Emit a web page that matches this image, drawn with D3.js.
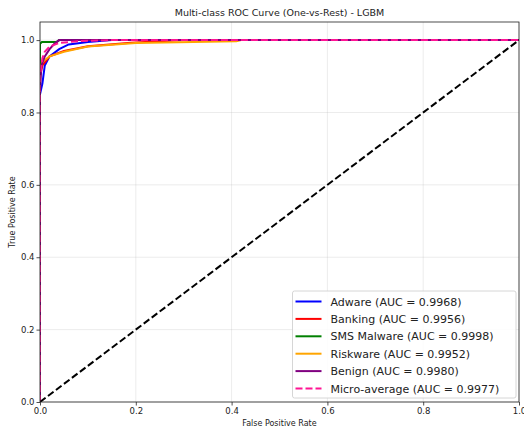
<!DOCTYPE html>
<html>
<head>
<meta charset="utf-8">
<script src="https://cdn.jsdelivr.net/npm/d3@7"></script>
<style>
  body { margin: 0; background: #fff; }
  svg { display: block; font-family: "DejaVu Sans", sans-serif; }
</style>
</head>
<body>
<div id="chart"></div>
<script>
// ROC points, [fpr, tpr]
const adware = [[0, 0], [0, 0.85], [0.005, 0.88], [0.01, 0.93], [0.02, 0.955], [0.04, 0.975], [0.06, 0.988], [0.1, 0.995], [0.15, 1.0], [1, 1]];
const banking = [[0, 0], [0, 0.9], [0.005, 0.93], [0.02, 0.955], [0.05, 0.97], [0.1, 0.983], [0.19, 0.993], [0.3, 1.0], [1, 1]];
const smsMalware = [[0, 0], [0, 0.99], [0.004, 0.995], [0.035, 0.995], [0.04, 1.0], [1, 1]];
const riskware = [[0, 0], [0, 0.92], [0.005, 0.94], [0.02, 0.955], [0.05, 0.968], [0.1, 0.982], [0.2, 0.992], [0.41, 0.997], [0.42, 1.0], [1, 1]];
const benign = [[0, 0], [0, 0.86], [0.003, 0.93], [0.01, 0.955], [0.02, 0.975], [0.03, 0.99], [0.04, 1.0], [1, 1]];
const microAvg = [[0, 0], [0, 0.9], [0.005, 0.95], [0.01, 0.968], [0.02, 0.982], [0.04, 0.992], [0.08, 0.997], [0.15, 1.0], [1, 1]];
const diagonal = [[0, 0], [1, 1]];

const seriesNames = ['Adware', 'Banking', 'SMS Malware', 'Riskware', 'Benign', 'Micro-average'];
const aucValues = [0.9968, 0.9956, 0.9998, 0.9952, 0.9980, 0.9977];
const seriesColors = ['#0000ff', '#ff0000', '#008000', '#ffa500', '#800080', '#ff1493'];
const tickValues = [0, 0.2, 0.4, 0.6, 0.8, 1.0];

const width = 524, height = 432;
const margin = { top: 22, right: 5, bottom: 30, left: 40 };

const svg = d3.select('#chart').append('svg')
    .attr('width', width)
    .attr('height', height);

const x = d3.scaleLinear().domain([0, 1]).range([margin.left, width - margin.right]);
const y = d3.scaleLinear().domain([0, 1.05]).range([height - margin.bottom, margin.top]);

// grid
svg.append('g')
    .selectAll('line.gx')
    .data(tickValues)
    .join('line')
    .attr('x1', d => x(d)).attr('x2', d => x(d))
    .attr('y1', y(0)).attr('y2', y(1.05))
    .attr('stroke', '#b0b0b0').attr('stroke-opacity', 0.3).attr('stroke-width', 0.8);
svg.append('g')
    .selectAll('line.gy')
    .data(tickValues)
    .join('line')
    .attr('x1', x(0)).attr('x2', x(1))
    .attr('y1', d => y(d)).attr('y2', d => y(d))
    .attr('stroke', '#b0b0b0').attr('stroke-opacity', 0.3).attr('stroke-width', 0.8);

// axes
const xAxis = svg.append('g')
    .attr('transform', `translate(0,${y(0)})`)
    .call(d3.axisBottom(x).tickValues(tickValues).tickFormat(d3.format('.1f')).tickSize(3.5).tickPadding(2));
const yAxis = svg.append('g')
    .attr('transform', `translate(${x(0)},0)`)
    .call(d3.axisLeft(y).tickValues(tickValues).tickFormat(d3.format('.1f')).tickSize(3.5).tickPadding(2));
[xAxis, yAxis].forEach(a => {
    a.select('.domain').remove();
    a.selectAll('text').attr('font-size', 8.5).attr('fill', '#222').attr('font-family', '"DejaVu Sans", sans-serif');
    a.selectAll('line').attr('stroke', '#222').attr('stroke-width', 0.8);
});

const clipId = 'plotclip';
svg.append('clipPath').attr('id', clipId)
    .append('rect')
    .attr('x', x(0)).attr('y', y(1.05))
    .attr('width', x(1) - x(0)).attr('height', y(0) - y(1.05));

const line = d3.line().x(d => x(d[0])).y(d => y(d[1]));
const plot = svg.append('g').attr('clip-path', `url(#${clipId})`);

const allSeries = [adware, banking, smsMalware, riskware, benign, microAvg];
allSeries.forEach((pts, i) => {
    plot.append('path')
        .datum(pts)
        .attr('d', line)
        .attr('fill', 'none')
        .attr('stroke', seriesColors[i])
        .attr('stroke-width', 2)
        .attr('stroke-dasharray', i === 5 ? '7,3' : null);
});

// chance line
plot.append('path')
    .datum(diagonal)
    .attr('d', line)
    .attr('fill', 'none')
    .attr('stroke', '#000')
    .attr('stroke-width', 2)
    .attr('stroke-dasharray', '7,3');

// frame
svg.append('rect')
    .attr('x', x(0)).attr('y', y(1.05))
    .attr('width', x(1) - x(0)).attr('height', y(0) - y(1.05))
    .attr('fill', 'none').attr('stroke', '#222').attr('stroke-width', 0.8);

// title & labels
svg.append('text')
    .attr('x', (x(0) + x(1)) / 2).attr('y', 16)
    .attr('text-anchor', 'middle').attr('font-size', 9.5).attr('fill', '#222')
    .text('Multi-class ROC Curve (One-vs-Rest) - LGBM');
svg.append('text')
    .attr('x', (x(0) + x(1)) / 2).attr('y', 426)
    .attr('text-anchor', 'middle').attr('font-size', 8).attr('fill', '#222')
    .text('False Positive Rate');
svg.append('text')
    .attr('transform', `translate(15,${(y(0) + y(1.05)) / 2}) rotate(-90)`)
    .attr('text-anchor', 'middle').attr('font-size', 8).attr('fill', '#222')
    .text('True Positive Rate');

// legend
const lg = svg.append('g').attr('transform', 'translate(292.5,291)');
lg.append('rect')
    .attr('width', 223.5).attr('height', 107).attr('rx', 2)
    .attr('fill', '#fff').attr('fill-opacity', 0.85)
    .attr('stroke', '#ccc').attr('stroke-width', 0.8);
seriesNames.forEach((name, i) => {
    const ry = 10.5 + i * 17.4;
    lg.append('line')
        .attr('x1', 3).attr('x2', 29).attr('y1', ry).attr('y2', ry)
        .attr('stroke', seriesColors[i]).attr('stroke-width', 2)
        .attr('stroke-dasharray', i === 5 ? '7,3' : null);
    lg.append('text')
        .attr('x', 38).attr('y', ry + 4)
        .attr('font-size', 11).attr('fill', '#222')
        .text(`${name} (AUC = ${aucValues[i].toFixed(4)})`);
});
</script>
</body>
</html>
